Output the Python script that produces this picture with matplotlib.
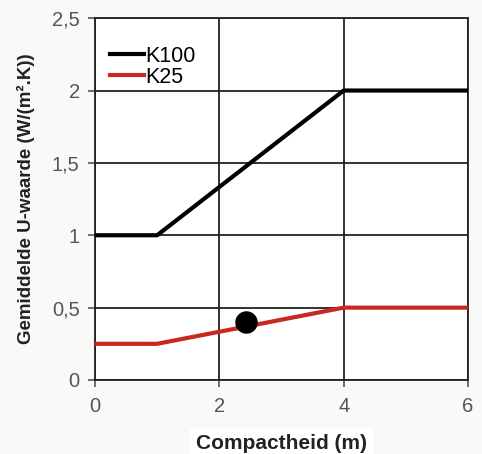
import numpy as np
import matplotlib.pyplot as plt

plt.rcParams['font.family'] = ['Liberation Sans', 'DejaVu Sans']

compactheid = [0, 1, 4, 6]
k100 = [1.0, 1.0, 2.0, 2.0]
k25 = [0.25, 0.25, 0.5, 0.5]
punt_x = [2.43]
punt_y = [0.40]

x_ticks = [0, 2, 4, 6]
y_ticks = [0, 0.5, 1, 1.5, 2, 2.5]
y_labels = ["0", "0,5", "1", "1,5", "2", "2,5"]

fig = plt.figure(figsize=(4.82, 4.54), dpi=100, facecolor="#f9f9f7")
ax = fig.add_axes([0.197, 0.163, 0.774, 0.797])
ax.set_facecolor("white")

ax.plot(compactheid, k100, color="black", lw=3, label="K100", zorder=3)
ax.plot(compactheid, k25, color="#c8281e", lw=3, label="K25", zorder=3)
ax.scatter(punt_x, punt_y, s=230, color="black", zorder=4)

ax.set_xlim(0, 6)
ax.set_ylim(0, 2.5)
ax.set_xticks(x_ticks)
ax.set_yticks(y_ticks)
ax.set_yticklabels(y_labels)
ax.tick_params(colors="#555555", labelsize=14.5, length=5, width=1.2, direction="out")
ax.tick_params(axis="x", pad=7)
ax.tick_params(axis="y", pad=6)
ax.grid(True, color="#222222", lw=1.3)
for s in ax.spines.values():
    s.set_color("#222222")
    s.set_linewidth(1.3)

ax.set_xlabel("Compactheid (m)", fontsize=15, fontweight="bold", labelpad=13,
              color="#222222", bbox=dict(facecolor="white", edgecolor="none", pad=4))
ax.set_ylabel("Gemiddelde U-waarde (W/(m².K))", fontsize=13.5, fontweight="bold",
              color="#222222", labelpad=12)

ax.legend(loc="upper left", frameon=False, fontsize=15.5, handlelength=1.6,
          handletextpad=0.05, labelspacing=0.0, borderaxespad=0,
          bbox_to_anchor=(0.016, 0.948))

fig.savefig("out.png", dpi=100, facecolor=fig.get_facecolor())
